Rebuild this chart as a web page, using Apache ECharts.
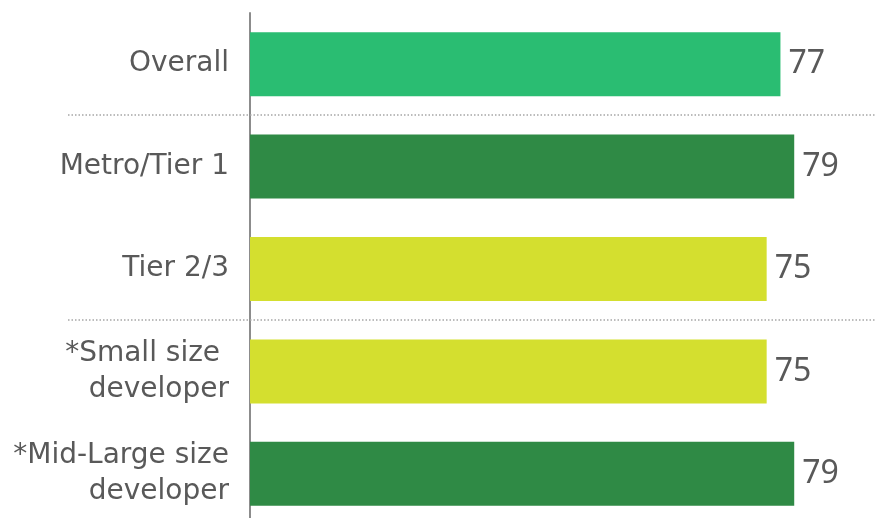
<!DOCTYPE html>
<html>
<head>
<meta charset="utf-8">
<script src="https://cdn.jsdelivr.net/npm/echarts@6/dist/echarts.min.js"></script>
<style>
  html, body { margin: 0; padding: 0; background: #fff; }
  #chart { width: 876px; height: 518px; }
</style>
</head>
<body>
<div id="chart"></div>
<script>
// categories top to bottom
var categories = ['Overall', 'Metro/Tier 1', 'Tier 2/3', '*Small size \ndeveloper', '*Mid-Large size\ndeveloper'];
var scores = [77, 79, 75, 75, 79];
var barColors = ['#2abd72', '#2f8a45', '#d4df2f', '#d4df2f', '#2f8a45'];
// dotted separators sit between these category indexes
var separatorsAfter = [0, 2];

var chart = echarts.init(document.getElementById('chart'));

chart.setOption({
  animation: false,
  grid: {
    left: 250,
    top: 13,
    width: 620,
    height: 512,
    outerBoundsMode: 'none',
    containLabel: false
  },
  xAxis: {
    type: 'value',
    min: 0,
    max: 90,
    show: false
  },
  yAxis: {
    type: 'category',
    inverse: true,
    data: categories,
    axisLine: { show: true, lineStyle: { color: '#8c8c8c', width: 2 } },
    axisTick: { show: false },
    axisLabel: {
      margin: 21,
      fontFamily: 'DejaVu Sans',
      fontSize: 28,
      lineHeight: 36,
      color: '#595959',
      align: 'right'
    }
  },
  series: [{
    type: 'bar',
    barWidth: '62.5%',
    data: scores.map(function (v, i) {
      return { value: v, itemStyle: { color: barColors[i] } };
    }),
    label: {
      show: true,
      position: 'right',
      distance: 8,
      fontFamily: 'Noto Sans',
      fontSize: 32,
      color: '#595959'
    }
  }]
});

// dotted separator lines between groups, placed from the axis scale
var lines = separatorsAfter.map(function (idx) {
  var y0 = chart.convertToPixel({ yAxisIndex: 0 }, idx);
  var y1 = chart.convertToPixel({ yAxisIndex: 0 }, idx + 1);
  var y = Math.round((y0 + y1) / 2);
  return {
    type: 'line',
    shape: { x1: 68, y1: y, x2: 876, y2: y },
    style: { stroke: '#a6a6a6', lineWidth: 1.5, lineDash: [1.5, 2] },
    z: 10
  };
});
chart.setOption({ graphic: lines });
</script>
</body>
</html>
